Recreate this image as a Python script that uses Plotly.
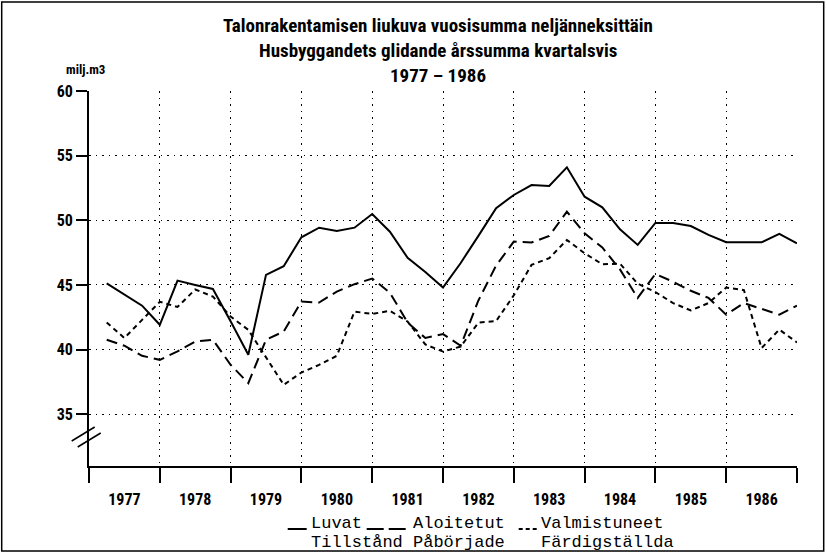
import plotly.graph_objects as go

# ---------------- data ----------------
years = [1977, 1978, 1979, 1980, 1981, 1982, 1983, 1984, 1985, 1986]
quarters = [1, 2, 3, 4]

luvat = [45.13, 44.26, 43.40, 41.92, 45.34, 45.00, 44.69, 42.20, 39.60, 45.78,
         46.45, 48.69, 49.43, 49.18, 49.43, 50.49, 49.12, 47.10, 46.00, 44.80,
         46.70, 48.80, 50.93, 51.96, 52.73, 52.65, 54.10, 51.83, 51.00, 49.30,
         48.10, 49.80, 49.80, 49.56, 48.87, 48.31, 48.33, 48.30, 48.95, 48.22]

aloitetut = [40.76, 40.30, 39.52, 39.21, 39.86, 40.63, 40.76, 38.83, 37.41, 40.76,
             41.40, 43.72, 43.64, 44.49, 45.06, 45.50, 44.40, 42.10, 40.90, 41.20,
             40.30, 43.80, 46.50, 48.35, 48.28, 48.79, 50.67, 49.00, 47.90, 46.20,
             44.00, 45.85, 45.25, 44.55, 44.00, 42.70, 43.60, 43.15, 42.70, 43.40]

valmistuneet = [42.10, 40.90, 42.30, 43.70, 43.30, 44.65, 44.10, 42.56, 41.53, 39.40,
                37.28, 38.23, 38.82, 39.52, 42.94, 42.76, 43.00, 42.17, 40.40, 39.85,
                40.24, 42.09, 42.20, 44.20, 46.55, 47.07, 48.48, 47.45, 46.60, 46.65,
                45.10, 44.45, 43.60, 43.03, 43.60, 44.80, 44.60, 40.12, 41.55, 40.55]

y_ticks = [35, 40, 45, 50, 55, 60]
title_lines = ["Talonrakentamisen liukuva vuosisumma neljänneksittäin",
               "Husbyggandets glidande årssumma kvartalsvis",
               "1977 – 1986"]
unit_label = "milj.m3"
legend_top = ["Luvat", "Aloitetut", "Valmistuneet"]
legend_bottom = ["Tillstånd", "Påbörjade", "Färdigställda"]

# x position of each quarterly value (end of quarter)
x_vals = [y + q / 4 for y in years for q in quarters]

# ---------------- figure ----------------
COND = ("Noto Sans Condensed, Roboto Condensed, DejaVu Sans Condensed, "
        "Liberation Sans Narrow, Arial Narrow, Roboto, sans-serif")
MONO = "Liberation Mono, DejaVu Sans Mono, monospace"

fig = go.Figure()
fig.add_trace(go.Scatter(x=x_vals, y=luvat, mode="lines", name="Luvat",
                         line=dict(color="black", width=2)))
fig.add_trace(go.Scatter(x=x_vals, y=aloitetut, mode="lines", name="Aloitetut",
                         line=dict(color="black", width=2, dash="11px,6px")))
fig.add_trace(go.Scatter(x=x_vals, y=valmistuneet, mode="lines", name="Valmistuneet",
                         line=dict(color="black", width=2, dash="5px,4px")))

L, R, T, B = 89.3, 29.7, 91, 90
W, H = 827, 556
PW, PH = W - L - R, H - T - B


def px(x):
    return (x - L) / PW


def py(y):
    return (H - B - y) / PH


fig.update_layout(
    width=W, height=H,
    margin=dict(l=L, r=R, t=T, b=B, pad=0),
    paper_bgcolor="white", plot_bgcolor="white",
    showlegend=False,
    font=dict(family=COND, color="black"),
)

fig.update_xaxes(
    range=[years[0], years[-1] + 1],
    tickmode="array",
    tickvals=[y + 0.5 for y in years],
    ticktext=[str(y) for y in years],
    ticks="outside", ticklen=18, tickcolor="rgba(0,0,0,0)",
    tickfont=dict(family=COND, size=16, weight="bold", color="black"),
    showgrid=False, zeroline=False,
    showline=True, linecolor="black", linewidth=2,
    minor=dict(tickmode="array", tickvals=years + [years[-1] + 1],
               ticks="outside", ticklen=15, tickwidth=1.5, tickcolor="black",
               showgrid=True, gridcolor="black", gridwidth=1, griddash="1.5px,5px"),
)

fig.update_yaxes(
    range=[31, 60],
    tickmode="array", tickvals=y_ticks, ticktext=[str(v) for v in y_ticks],
    ticks="outside", ticklen=11, tickwidth=2, tickcolor="black",
    tickfont=dict(family=COND, size=16, weight="bold", color="black"),
    showgrid=True, gridcolor="black", gridwidth=1, griddash="1.5px,5px",
    zeroline=False, showline=True, linecolor="black", linewidth=2,
)

ann = []
title_y = [25, 50, 76]
for txt, yy in zip(title_lines, title_y):
    ann.append(dict(text=txt, x=px(438), y=py(yy), xref="paper", yref="paper",
                    showarrow=False, xanchor="center", yanchor="middle",
                    font=dict(family=COND, size=19, weight="bold", color="black")))
ann.append(dict(text=unit_label, x=px(64), y=py(70), xref="paper", yref="paper",
                showarrow=False, xanchor="left", yanchor="middle",
                font=dict(family=COND, size=13, weight="bold", color="black")))

leg_x = [309, 411, 539]
for txt, xx in zip(legend_top, leg_x):
    ann.append(dict(text=txt, x=px(xx), y=py(523), xref="paper", yref="paper",
                    showarrow=False, xanchor="left", yanchor="middle",
                    font=dict(family=MONO, size=17, color="black")))
for txt, xx in zip(legend_bottom, leg_x):
    ann.append(dict(text=txt, x=px(xx), y=py(542), xref="paper", yref="paper",
                    showarrow=False, xanchor="left", yanchor="middle",
                    font=dict(family=MONO, size=17, color="black")))
fig.update_layout(annotations=ann)

shapes = []
# legend line samples
shapes.append(dict(type="line", xref="paper", yref="paper", x0=px(288), x1=px(307),
                   y0=py(529), y1=py(529), line=dict(color="black", width=2)))
shapes.append(dict(type="line", xref="paper", yref="paper", x0=px(367), x1=px(406),
                   y0=py(529), y1=py(529), line=dict(color="black", width=2, dash="17px,5px")))
shapes.append(dict(type="line", xref="paper", yref="paper", x0=px(519), x1=px(537),
                   y0=py(529), y1=py(529), line=dict(color="black", width=2, dash="4px,3px")))
# axis break marks
shapes.append(dict(type="line", xref="paper", yref="paper", x0=px(72), x1=px(95),
                   y0=py(441), y1=py(427), line=dict(color="black", width=1.5)))
shapes.append(dict(type="line", xref="paper", yref="paper", x0=px(78), x1=px(101),
                   y0=py(447), y1=py(433), line=dict(color="black", width=1.5)))
# outer frame
shapes.append(dict(type="rect", xref="paper", yref="paper", x0=px(2), x1=px(824),
                   y0=py(551), y1=py(2), line=dict(color="black", width=1.5)))
fig.update_layout(shapes=shapes)

fig.write_html(
    "out.html",
    config={"displayModeBar": False},
    post_script="document.body.style.margin='0';document.body.style.padding='0';"
                "document.body.style.overflow='hidden';",
)
